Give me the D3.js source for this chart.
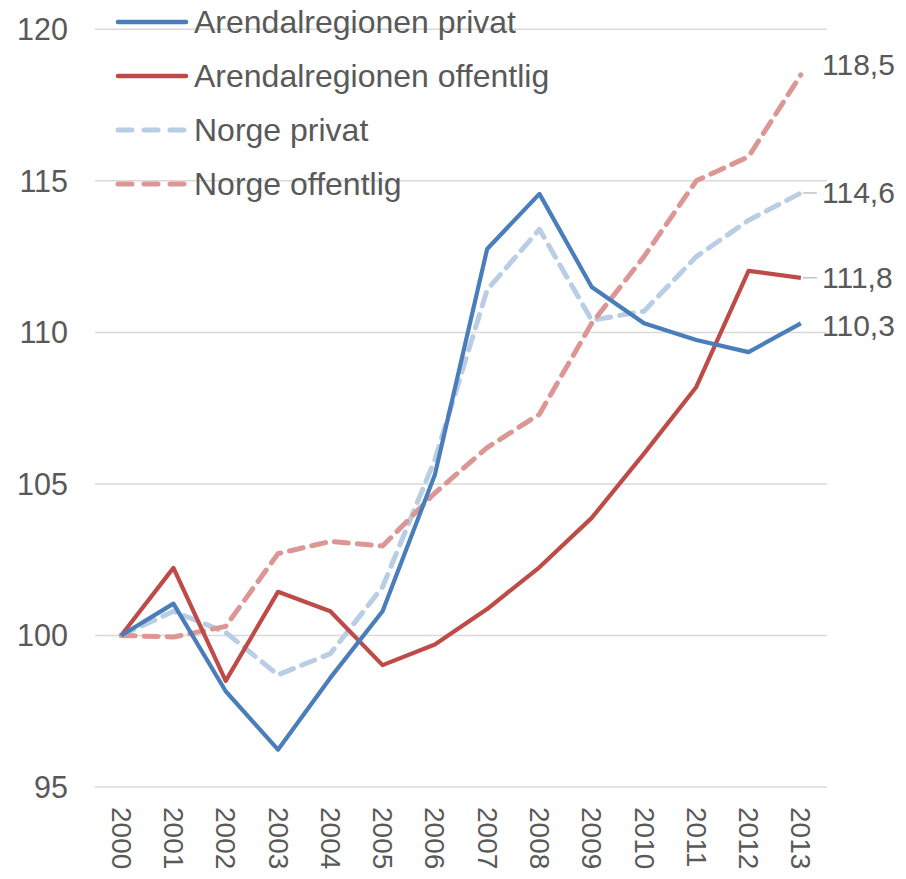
<!DOCTYPE html>
<html><head><meta charset="utf-8">
<script src="https://cdn.jsdelivr.net/npm/d3@7"></script>
<style>body{margin:0;background:#fff;} text{font-family:"Liberation Sans",Arial,sans-serif;fill:#595959;}</style>
</head><body>
<svg id="c" width="906" height="879"></svg>
<script>
const years = ["2000","2001","2002","2003","2004","2005","2006","2007","2008","2009","2010","2011","2012","2013"];
const arendalPrivat    = [100,101.05,98.16,96.23,98.6,100.8,105.3,112.75,114.57,111.5,110.3,109.75,109.35,110.3];
const arendalOffentlig = [100,102.23,98.5,101.44,100.8,99.02,99.7,100.87,102.25,103.88,106.0,108.2,112.03,111.8];
const norgePrivat      = [100,100.8,100.1,98.7,99.4,101.6,105.8,111.4,113.4,110.4,110.7,112.5,113.7,114.6];
const norgeOffentlig   = [100,99.95,100.3,102.7,103.1,102.95,104.7,106.2,107.3,110.3,112.5,115.0,115.8,118.5];
const seriesNames = ["Arendalregionen privat","Arendalregionen offentlig","Norge privat","Norge offentlig"];
const yTicks = [95,100,105,110,115,120];
const endLabels = ["118,5","114,6","111,8","110,3"];

const series = [
  {name:seriesNames[0], values:arendalPrivat,    color:"#4A7EBB", dash:null},
  {name:seriesNames[1], values:arendalOffentlig, color:"#BE4B48", dash:null},
  {name:seriesNames[2], values:norgePrivat,      color:"#B9CDE5", dash:"14,9"},
  {name:seriesNames[3], values:norgeOffentlig,   color:"#DC9694", dash:"14,9"}
];

const svg = d3.select("#c");
const x = d3.scalePoint().domain(years).range([95,827]).padding(0.5);
const y = d3.scaleLinear().domain([95,120]).range([787,29.3]);

// gridlines
svg.append("g").selectAll("line").data(yTicks).join("line")
  .attr("x1",95).attr("x2",827).attr("y1",d=>y(d)).attr("y2",d=>y(d))
  .attr("stroke","#D9D9D9").attr("stroke-width",1.5);

// y labels
svg.append("g").selectAll("text").data(yTicks).join("text")
  .attr("x",68).attr("y",d=>y(d)).attr("text-anchor","end").attr("dominant-baseline","central")
  .style("font-size","30.5px").text(d=>d);

// x labels rotated
svg.append("g").selectAll("text").data(years).join("text")
  .attr("transform",d=>`translate(${x(d)},807) rotate(90)`)
  .attr("dominant-baseline","central").style("font-size","28px").text(d=>d);

const line = d3.line().x((d,i)=>x(years[i])).y(d=>y(d));
const order = [2,3,1,0];
order.forEach(k=>{
  const s = series[k];
  svg.append("path").datum(s.values).attr("d",line).attr("fill","none")
    .attr("stroke",s.color).attr("stroke-width",s.dash?5:4.2)
    .attr("stroke-linejoin","round").attr("stroke-linecap",s.dash?"round":"butt")
    .attr("stroke-dasharray",s.dash);
});

// legend
const lg = svg.append("g");
series.forEach((s,i)=>{
  const ly = 22 + i*54;
  lg.append("line").attr("x1",118).attr("x2",186).attr("y1",ly).attr("y2",ly)
    .attr("stroke",s.color).attr("stroke-width",s.dash?5:4.5).attr("stroke-linecap","round")
    .attr("stroke-dasharray",s.dash?"14,12":null);
  lg.append("text").attr("x",194).attr("y",ly).attr("dominant-baseline","central")
    .style("font-size","32px").text(s.name);
});

// end labels
const lastIdx = years.length-1;
const endSeries = [series[3],series[2],series[1],series[0]];
const endOffsets = [-10,0,0,2];
const leaders = [false,true,true,false];
endSeries.forEach((s,i)=>{
  const vy = y(s.values[lastIdx]);
  if(leaders[i]){
    svg.append("line").attr("x1",x(years[lastIdx])+2).attr("x2",x(years[lastIdx])+16)
      .attr("y1",vy).attr("y2",vy).attr("stroke","#A6A6A6").attr("stroke-width",1);
  }
  svg.append("text").attr("x",822).attr("y",vy+endOffsets[i]).attr("dominant-baseline","central")
    .style("font-size","30px").text(endLabels[i]);
});
</script>
</body></html>
